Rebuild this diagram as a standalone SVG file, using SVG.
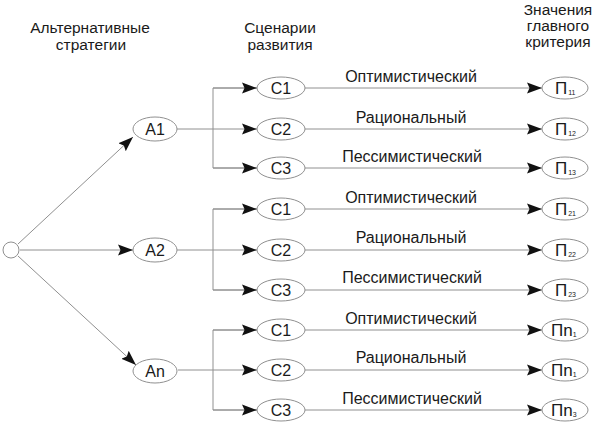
<svg xmlns="http://www.w3.org/2000/svg" width="600" height="435" viewBox="0 0 600 435">
<style>
  text { font-family: "Liberation Sans", Arial, sans-serif; fill: #1a1a1a; }
  .hdr { font-size: 15.5px; text-anchor: middle; }
  .lbl { font-size: 16px; text-anchor: middle; }
  .nd { font-size: 16px; text-anchor: middle; }
  .pi { font-size: 17px; }
  .sub { font-size: 7px; }
  ellipse, circle { fill: #fff; stroke: #909090; stroke-width: 1; }
  .ln { fill: none; stroke: #909090; stroke-width: 1; }
  .ar { marker-end: url(#ah); }
</style>
<defs>
  <marker id="ah" markerUnits="userSpaceOnUse" markerWidth="16" markerHeight="12" refX="15" refY="5.5" orient="auto" viewBox="0 0 16 11">
    <path d="M0,0 L15,5.5 L0,11 L2.5,5.5 z" fill="#111"/>
  </marker>
</defs>
<rect width="600" height="435" fill="#fff"/>
<g id="headers">
  <text class="hdr" x="90" y="33">Альтернативные</text>
  <text class="hdr" x="91" y="50">стратегии</text>
  <text class="hdr" x="280" y="33">Сценарии</text>
  <text class="hdr" x="280" y="50">развития</text>
  <text class="hdr" x="558" y="15">Значения</text>
  <text class="hdr" x="558" y="31">главного</text>
  <text class="hdr" x="558" y="47">критерия</text>
</g>
<g id="connectors">
  <line class="ln ar" x1="18" y1="244" x2="133" y2="137"/>
  <line class="ln ar" x1="20" y1="250" x2="133" y2="250"/>
  <line class="ln ar" x1="18" y1="256" x2="136" y2="365"/>
  <line class="ln ar" x1="177" y1="129" x2="257" y2="129"/>
  <path class="ln" d="M257,88 H213 V168 H257"/>
  <line class="ln ar" x1="213" y1="88" x2="257" y2="88"/>
  <line class="ln ar" x1="213" y1="168" x2="257" y2="168"/>
  <line class="ln ar" x1="177" y1="250" x2="257" y2="250"/>
  <path class="ln" d="M257,209 H213 V290 H257"/>
  <line class="ln ar" x1="213" y1="209" x2="257" y2="209"/>
  <line class="ln ar" x1="213" y1="290" x2="257" y2="290"/>
  <line class="ln ar" x1="178" y1="370" x2="257" y2="370"/>
  <path class="ln" d="M257,330 H213 V410 H257"/>
  <line class="ln ar" x1="213" y1="330" x2="257" y2="330"/>
  <line class="ln ar" x1="213" y1="410" x2="257" y2="410"/>
  <line class="ln ar" x1="305" y1="88" x2="542" y2="88"/>
  <line class="ln ar" x1="305" y1="129" x2="542" y2="129"/>
  <line class="ln ar" x1="305" y1="168" x2="542" y2="168"/>
  <line class="ln ar" x1="305" y1="209" x2="542" y2="209"/>
  <line class="ln ar" x1="305" y1="250" x2="542" y2="250"/>
  <line class="ln ar" x1="305" y1="290" x2="542" y2="290"/>
  <line class="ln ar" x1="305" y1="330" x2="542" y2="330"/>
  <line class="ln ar" x1="305" y1="370" x2="542" y2="370"/>
  <line class="ln ar" x1="305" y1="410" x2="542" y2="410"/>
  <text class="lbl" x="411" y="82">Оптимистический</text>
  <text class="lbl" x="411" y="123">Рациональный</text>
  <text class="lbl" x="412" y="162">Пессимистический</text>
  <text class="lbl" x="411" y="203">Оптимистический</text>
  <text class="lbl" x="411" y="243">Рациональный</text>
  <text class="lbl" x="412" y="283">Пессимистический</text>
  <text class="lbl" x="411" y="324">Оптимистический</text>
  <text class="lbl" x="411" y="363">Рациональный</text>
  <text class="lbl" x="412" y="404">Пессимистический</text>
</g>
<g id="start"><circle cx="11" cy="250" r="8"/></g>
<g id="A1"><ellipse cx="155" cy="129" rx="22" ry="12"/><text class="nd" x="155" y="135">A1</text></g>
<g id="A2"><ellipse cx="155" cy="250" rx="22" ry="12"/><text class="nd" x="155" y="256">A2</text></g>
<g id="An"><ellipse cx="155" cy="371" rx="22" ry="12"/><text class="nd" x="155" y="377">An</text></g>
<g id="C1a"><ellipse cx="281" cy="88" rx="24" ry="11"/><text class="nd" x="281" y="94">C1</text></g>
<g id="C2a"><ellipse cx="281" cy="129" rx="24" ry="11"/><text class="nd" x="281" y="135">C2</text></g>
<g id="C3a"><ellipse cx="281" cy="168" rx="24" ry="11"/><text class="nd" x="281" y="174">C3</text></g>
<g id="C1b"><ellipse cx="281" cy="209" rx="24" ry="11"/><text class="nd" x="281" y="215">C1</text></g>
<g id="C2b"><ellipse cx="281" cy="250" rx="24" ry="11"/><text class="nd" x="281" y="256">C2</text></g>
<g id="C3b"><ellipse cx="281" cy="290" rx="24" ry="11"/><text class="nd" x="281" y="296">C3</text></g>
<g id="C1c"><ellipse cx="281" cy="330" rx="24" ry="11"/><text class="nd" x="281" y="336">C1</text></g>
<g id="C2c"><ellipse cx="281" cy="370" rx="24" ry="11"/><text class="nd" x="281" y="376">C2</text></g>
<g id="C3c"><ellipse cx="281" cy="410" rx="24" ry="11"/><text class="nd" x="281" y="416">C3</text></g>
<g id="P11"><ellipse cx="565" cy="88" rx="23" ry="11"/><text class="pi" x="555" y="94">П<tspan class="sub" dx="1" dy="1">11</tspan></text></g>
<g id="P12"><ellipse cx="565" cy="129" rx="23" ry="11"/><text class="pi" x="555" y="135">П<tspan class="sub" dx="1" dy="1">12</tspan></text></g>
<g id="P13"><ellipse cx="565" cy="168" rx="23" ry="11"/><text class="pi" x="555" y="174">П<tspan class="sub" dx="1" dy="1">13</tspan></text></g>
<g id="P21"><ellipse cx="565" cy="209" rx="23" ry="11"/><text class="pi" x="555" y="215">П<tspan class="sub" dx="1" dy="1">21</tspan></text></g>
<g id="P22"><ellipse cx="565" cy="250" rx="23" ry="11"/><text class="pi" x="555" y="256">П<tspan class="sub" dx="1" dy="1">22</tspan></text></g>
<g id="P23"><ellipse cx="565" cy="290" rx="23" ry="11"/><text class="pi" x="555" y="296">П<tspan class="sub" dx="1" dy="1">23</tspan></text></g>
<g id="Pn1"><ellipse cx="565" cy="330" rx="23" ry="11"/><text class="pi" x="551" y="336">Пn<tspan class="sub" dx="0" dy="1">1</tspan></text></g>
<g id="Pn2"><ellipse cx="565" cy="370" rx="23" ry="11"/><text class="pi" x="551" y="376">Пn<tspan class="sub" dx="0" dy="1">1</tspan></text></g>
<g id="Pn3"><ellipse cx="565" cy="410" rx="23" ry="11"/><text class="pi" x="551" y="416">Пn<tspan class="sub" dx="0" dy="1">3</tspan></text></g>
</svg>
